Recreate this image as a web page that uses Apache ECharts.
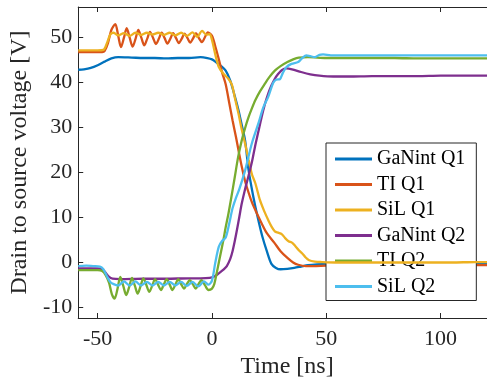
<!DOCTYPE html>
<html>
<head>
<meta charset="utf-8">
<script src="https://cdn.jsdelivr.net/npm/echarts@6/dist/echarts.min.js"></script>
<style>html,body{margin:0;padding:0;background:#fff}#c{width:487px;height:384px}</style>
</head>
<body>
<div id="c"></div>
<script>
var seriesNames = ['GaNint Q1','TI Q1','SiL Q1','GaNint Q2','TI Q2','SiL Q2'];
var colors = ['#0072BD','#D95319','#EDB120','#7E2F8E','#77AC30','#4DBEEE'];
var xTicks = [-50, 0, 50, 100];
var yTicks = [-10, 0, 10, 20, 30, 40, 50];

var ganintQ1 = [[-58.5,42.7],[-56,42.8],[-53,43.1],[-50,43.7],[-47,44.5],[-44,45.2],[-41,45.5],[-35,45.4],[-30,45.3],[-25,45.3],[-20,45.2],[-15,45.3],[-10,45.3],[-5,45.5],[-2,45.3],[0,45],[2,44.3],[4,43.5],[6,42.5],[8,40.3],[10,36.8],[11.6,33.7],[13,30.5],[14.5,27],[16,20.5],[18,14.8],[20,10],[22,5.8],[24,2.5],[26,-0.3],[28,-1.2],[30,-1.5],[33,-1.4],[36,-1.2],[39,-0.9],[42,-0.6],[46,-0.4],[50,-0.3],[60,-0.3],[70,-0.3],[80,-0.3],[90,-0.3],[100,-0.3],[110,-0.3],[120.3,-0.3]];

var tiQ1 = [[-58.5,46.6],[-52,46.6],[-48,46.6],[-47,46.8],[-45.5,48.6],[-44,51.5],[-42.3,52.8],[-41,50.2],[-39.8,47.7],[-38.5,49.8],[-37.3,51.9],[-36,49.8],[-34.7,47.8],[-33.4,49.6],[-32.2,51.5],[-30.9,49.8],[-29.6,48.1],[-28.3,49.6],[-27.1,51.1],[-25.8,49.8],[-24.5,48.4],[-23.2,49.6],[-22,50.9],[-20.7,49.7],[-19.5,48.5],[-18.2,49.6],[-17,50.8],[-15.7,49.7],[-14.5,48.6],[-13.2,49.6],[-12,50.7],[-10.7,49.7],[-9.5,48.7],[-8.2,49.7],[-7,50.8],[-5.7,49.7],[-4.4,48.8],[-3.1,49.9],[-1.8,51.0],[0,50.2],[1.5,47.8],[3,45],[4.5,42],[6,39.5],[7.5,35.5],[9,31.5],[10.5,27.8],[12,23.8],[13,21.3],[14.5,18],[16,15.5],[17.5,13.3],[19.5,11],[21.7,8.7],[24,6.5],[27.4,4.3],[30,2.5],[33,1.0],[35.5,0],[37.7,-0.5],[41,-0.8],[44,-0.8],[50,-0.7],[60,-0.6],[70,-0.6],[80,-0.6],[90,-0.6],[100,-0.6],[110,-0.6],[120.3,-0.6]];

var silQ1 = [[-58.5,47.0],[-50,47.0],[-47.5,47.1],[-46,48.5],[-44.5,50.5],[-43,50.9],[-41,50.3],[-38.5,50.8],[-36,50.2],[-33.5,50.9],[-31,50.4],[-28.5,50.9],[-26,50.5],[-23.5,50.9],[-21,50.4],[-18.5,50.9],[-16,50.3],[-13.5,50.9],[-11,50.2],[-8.5,51.0],[-6.5,50.0],[-4.3,51.3],[-2.5,50.5],[-1,50.6],[0,49.3],[1.5,46],[3,43.3],[5,41.8],[7,40.8],[8.7,39.4],[10,36.5],[11.6,33],[13,29.5],[14.5,26.3],[16,22.8],[17.5,19.5],[19,17.5],[21,13.8],[23,11.2],[24.6,9.4],[26,8],[27.5,6.9],[29,6.6],[30.5,6.3],[32,5.4],[33.5,4.7],[35,4.4],[36.5,3.6],[38,2.7],[39.5,2.0],[41,1.1],[42.5,0.5],[45,0.2],[48,0.1],[55,0],[65,0],[75,0],[85,0],[95,0],[105,0],[115,0.1],[120.3,0.1]];

var ganintQ2 = [[-58.5,-1.3],[-50,-1.3],[-48,-1.5],[-46.5,-2.3],[-45,-3.2],[-43.5,-3.6],[-40,-3.7],[-30,-3.6],[-20,-3.6],[-10,-3.5],[-5,-3.5],[-1,-3.4],[1,-3.1],[3,-2.4],[5,-1.6],[6.5,-0.8],[8,0.8],[9,2.5],[10,4.8],[11,7.4],[12,10.2],[13,13],[14.5,16.3],[16,19.2],[17.5,22.3],[18.8,25.6],[20.3,29],[21.7,32.2],[23,34.8],[24.6,37.4],[26,39.2],[27.5,40.7],[29,41.8],[30.5,42.6],[32.5,43],[35,42.8],[39,42.2],[43,41.7],[47,41.4],[53,41.2],[60,41.2],[70,41.3],[80,41.3],[90,41.3],[100,41.4],[110,41.4],[120.3,41.4]];

var tiQ2 = [[-58.5,-1.7],[-50,-1.7],[-48,-1.9],[-46.5,-2.8],[-45,-4.5],[-43.8,-7],[-42.6,-8.0],[-41.3,-5.8],[-40.1,-3.2],[-38.8,-5.2],[-37.5,-7.2],[-36.2,-5.4],[-35,-3.4],[-33.7,-5.2],[-32.5,-6.9],[-31.2,-5.2],[-30,-3.5],[-28.7,-5.0],[-27.4,-6.5],[-26.1,-5.1],[-24.9,-3.7],[-23.6,-4.9],[-22.3,-6.1],[-21.1,-4.9],[-19.8,-3.7],[-18.5,-4.9],[-17.3,-6.1],[-16,-4.9],[-14.7,-3.7],[-13.5,-4.8],[-12.2,-5.8],[-11,-4.8],[-9.7,-3.9],[-8.4,-4.8],[-7.1,-5.8],[-5.9,-4.8],[-4.6,-3.9],[-3.1,-5.0],[-1.5,-6.1],[0,-5.8],[1,-4.8],[2,-2.5],[3,0],[4,2.5],[5,5],[6,7.8],[7.2,10.8],[8.5,14.5],[10,19],[11.5,23.5],[13,27],[14.5,29.8],[16,32.2],[17.5,34.2],[19,36],[21,37.9],[23,39.5],[25,41],[27.5,42.5],[30,43.5],[33,44.4],[35.5,45],[38,45.4],[42,45.5],[50,45.3],[60,45.3],[70,45.3],[80,45.3],[90,45.2],[100,45.2],[110,45.2],[120.3,45.2]];

var silQ2 = [[-58.5,-0.8],[-55,-0.7],[-52,-0.8],[-49,-0.9],[-47.5,-1.5],[-46,-3],[-44.5,-4.3],[-43,-4.8],[-41,-5.1],[-38.5,-4.2],[-36,-5.1],[-33.5,-4.2],[-31,-5.1],[-28.5,-4.3],[-26,-5.1],[-23.5,-4.3],[-21,-5.1],[-18.5,-4.3],[-16,-5.1],[-13.5,-4.3],[-11,-5.2],[-8.5,-4.3],[-6,-5.3],[-3.5,-4.2],[-1.5,-4.9],[0,-4],[1.4,-0.2],[3,3.5],[4.5,4.8],[6,5.5],[7.5,8.5],[9,12],[10.5,14.3],[12,16.3],[14.5,20.4],[17.4,26.3],[20.3,30.8],[22.5,34.4],[24.6,36.7],[26.8,39.8],[28,40.5],[29.7,40.6],[31,42],[32.6,43.3],[34.8,44],[37.7,44.4],[39.5,45.3],[41.3,45.9],[43,45.7],[45,45.5],[47,46.0],[48.6,46.1],[52,45.9],[60,45.9],[70,45.9],[80,45.9],[90,45.9],[100,45.9],[110,45.9],[120.3,45.9]];

var allData = [ganintQ1, tiQ1, silQ1, ganintQ2, tiQ2, silQ2];

var font = 'Liberation Serif';
var axisColor = '#262626';
var chart = echarts.init(document.getElementById('c'), null, {renderer: 'canvas'});

var series = seriesNames.map(function (n, i) {
  return {
    name: n, type: 'line', data: allData[i], showSymbol: false, symbol: 'none',
    smooth: 0.3, color: colors[i],
    lineStyle: {width: 2.3, color: colors[i]}, itemStyle: {color: colors[i]},
    xAxisIndex: 0, yAxisIndex: 0, z: 2 + i
  };
});

chart.setOption({
  animation: false,
  backgroundColor: '#fff',
  grid: {left: 76, right: 0, top: 7, bottom: 66, containLabel: false},
  xAxis: [{
    type: 'value', min: -58.5, max: 120.3, position: 'bottom',
    name: 'Time [ns]', nameLocation: 'middle', nameGap: 34,
    nameTextStyle: {fontFamily: font, fontSize: 24, color: axisColor, padding: [0, 0, 0, 9]},
    axisLine: {show: true, onZero: false, lineStyle: {color: axisColor, width: 1}},
    axisTick: {show: true, inside: true, length: 5, customValues: xTicks, lineStyle: {color: axisColor}},
    axisLabel: {show: true, customValues: xTicks, margin: 10, fontFamily: font, fontSize: 22, color: axisColor},
    splitLine: {show: false}
  }, {
    type: 'value', min: -58.5, max: 120.3, position: 'top',
    axisLine: {show: true, onZero: false, lineStyle: {color: axisColor, width: 1}},
    axisTick: {show: true, inside: true, length: 5, customValues: xTicks, lineStyle: {color: axisColor}},
    axisLabel: {show: false},
    splitLine: {show: false}
  }],
  yAxis: [{
    type: 'value', min: -12.3, max: 56.6, position: 'left',
    name: 'Drain to source voltage [V]', nameLocation: 'middle', nameGap: 40,
    nameTextStyle: {fontFamily: font, fontSize: 24, color: axisColor},
    axisLine: {show: true, onZero: false, lineStyle: {color: axisColor, width: 1}},
    axisTick: {show: true, inside: true, length: 5, customValues: yTicks, lineStyle: {color: axisColor}},
    axisLabel: {show: true, customValues: yTicks, margin: 6, fontFamily: font, fontSize: 22, color: axisColor},
    splitLine: {show: false}
  }],
  legend: {
    show: true, orient: 'vertical', left: 326, top: 143,
    padding: [6, 11, 4, 9], itemWidth: 37, itemHeight: 3, itemGap: 5.5,
    icon: 'rect', borderColor: axisColor, borderWidth: 1, backgroundColor: '#fff',
    textStyle: {fontFamily: font, fontSize: 20, lineHeight: 20, color: '#000'},
    data: seriesNames
  },
  series: series
});
</script>
</body>
</html>
